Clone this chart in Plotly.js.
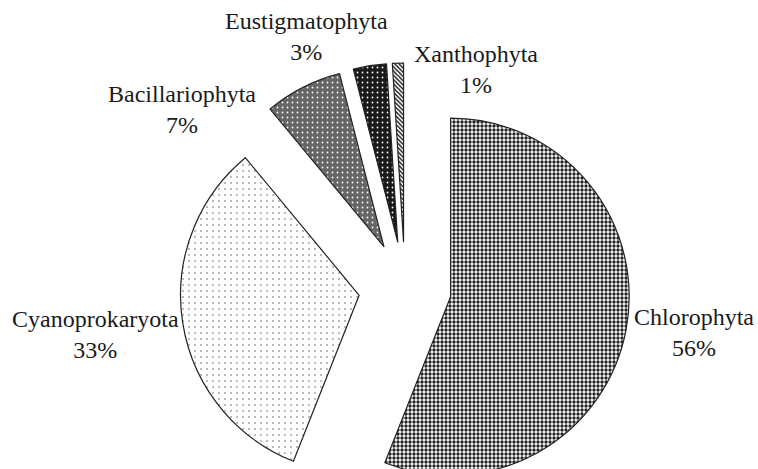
<!DOCTYPE html>
<html>
<head>
<meta charset="utf-8">
<script src="https://cdn.plot.ly/plotly-3.0.1.min.js"></script>
<style>
html, body { margin: 0; padding: 0; overflow: hidden; background: #fff; }
#chart { width: 758px; height: 530px; }
</style>
</head>
<body>
<div id="chart"></div>
<script>
// Data
const labels = ["Chlorophyta", "Cyanoprokaryota", "Bacillariophyta", "Eustigmatophyta", "Xanthophyta"];
const values = [56, 33, 7, 3, 1];

// Label placement (pixel centers of each two-line label block)
const labelPosPx = [[694, 332], [95, 334], [182, 110], [306, 37], [476, 70]];

const W = 758, H = 530;
// Pie geometry in pixels: center and box size (box includes pull)
const cx = 405, cy = 288, box = 450;

const shapes = [".", ".", ".", ".", "\\"];
const fg = ["#222222", "#555555", "#ffffff", "#ffffff", "#111111"];
const bg = ["#ffffff", "#ffffff", "#666666", "#1a1a1a", "#ffffff"];
const psize = [4, 6, 5, 5, 3];
const solid = [0.55, 0.05, 0.1, 0.1, 0.45];

const trace = {
  type: "pie",
  labels: labels,
  values: values,
  sort: false,
  direction: "clockwise",
  rotation: 0,
  pull: labels.map(() => 0.26),
  textinfo: "none",
  hoverinfo: "label+percent",
  showlegend: false,
  domain: {
    x: [(cx - box / 2) / W, (cx + box / 2) / W],
    y: [(H - cy - box / 2) / H, (H - cy + box / 2) / H]
  },
  marker: {
    colors: bg,
    line: { color: "#222222", width: 1.2 },
    pattern: { shape: shapes, fgcolor: fg, bgcolor: bg, size: psize, solidity: solid, fillmode: "replace" }
  }
};

const annotations = labels.map((l, i) => ({
  text: l + "<br>" + values[i] + "%",
  x: labelPosPx[i][0] / W,
  y: (H - labelPosPx[i][1]) / H,
  xref: "paper", yref: "paper",
  xanchor: "center", yanchor: "middle",
  showarrow: false,
  align: "center",
  font: { family: "'Times New Roman', 'Liberation Serif', Times, serif", size: 24, color: "#1a1a1a" }
}));

const layout = {
  width: W, height: H,
  margin: { l: 0, r: 0, t: 0, b: 0 },
  font: { family: "'Times New Roman', 'Liberation Serif', Times, serif" },
  paper_bgcolor: "#fff",
  plot_bgcolor: "#fff",
  annotations: annotations
};

Plotly.newPlot("chart", [trace], layout, { displayModeBar: false, staticPlot: true });
</script>
</body>
</html>
